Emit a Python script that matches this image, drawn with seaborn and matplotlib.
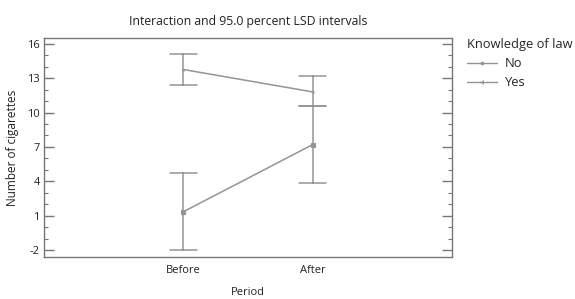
import matplotlib
matplotlib.use("Agg")
import matplotlib.pyplot as plt
import seaborn as sns
import pandas as pd
from matplotlib.lines import Line2D
from matplotlib.ticker import MultipleLocator

periods = ["Before", "After"]
groups = ["No", "Yes"]
no_mean = [1.35, 7.2]
no_lower = [-2.0, 3.85]
no_upper = [4.7, 10.6]
yes_mean = [13.75, 11.8]
yes_lower = [12.42, 10.55]
yes_upper = [15.1, 13.18]
yticks = [-2, 1, 4, 7, 10, 13, 16]

rows = []
for g, m, lo, hi in [("No", no_mean, no_lower, no_upper), ("Yes", yes_mean, yes_lower, yes_upper)]:
    for i, p in enumerate(periods):
        for v in (lo[i], m[i], hi[i]):
            rows.append({"Period": p, "Knowledge of law": g, "value": v})
df = pd.DataFrame(rows)

sns.set_style("white")
plt.rcParams["font.family"] = ["Open Sans", "DejaVu Sans"]
plt.rcParams["axes.unicode_minus"] = False

fig = plt.figure(figsize=(5.75, 2.99), dpi=100)
ax = fig.add_axes([44/575, 1-257/299, (452-44)/575, (257-38)/299])

grey = "#949494"
sns.pointplot(data=df, x="Period", y="value", hue="Knowledge of law",
              order=periods, hue_order=groups, estimator="median",
              errorbar=("pi", 100), capsize=0.21, dodge=False,
              palette=[grey, grey], markers=["s", "3"], linestyles=["-", "-"],
              err_kws={"linewidth": 1.1}, linewidth=1.1, markersize=2.3,
              ax=ax, legend=False)

ax.set_xlim(-1.08, 2.08)
ax.set_ylim(-2.6, 16.5)
ax.set_yticks(yticks)
ax.yaxis.set_minor_locator(MultipleLocator(1))
ax.tick_params(axis="y", which="both", direction="in", left=True, right=True,
               color="#777777", labelsize=8, labelcolor="#222222", pad=3)
ax.tick_params(axis="y", which="major", length=7, width=1)
ax.tick_params(axis="y", which="minor", length=3, width=0.8)
ax.tick_params(axis="x", length=0, labelsize=8, labelcolor="#222222", pad=6)
for s in ax.spines.values():
    s.set_color("#777777")
    s.set_linewidth(1)

ax.set_xlabel("Period", fontsize=8, color="#222222", labelpad=8)
ax.set_ylabel("Number of cigarettes", fontsize=8.5, color="#222222", labelpad=6)
ax.set_title("Interaction and 95.0 percent LSD intervals", fontsize=8.8,
             color="#222222", pad=9)

handles = [Line2D([], [], color=grey, marker="s", markersize=2, linewidth=1),
           Line2D([], [], color=grey, marker="3", markersize=3.5, linewidth=1)]
leg = fig.legend(handles, groups, title="Knowledge of law", loc="upper left",
                 bbox_to_anchor=(461/575, 1-32/299), frameon=False, fontsize=9.3,
                 title_fontsize=9.3, handlelength=2.3, handletextpad=0.6,
                 labelspacing=0.45, borderpad=0)
leg._legend_box.align = "left"

fig.savefig("out.png", dpi=100)
